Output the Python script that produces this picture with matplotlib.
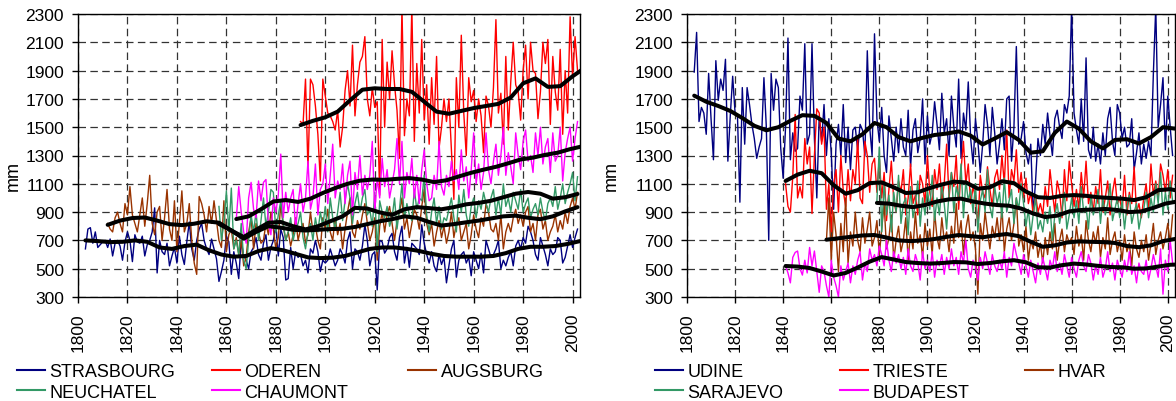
import numpy as np
import matplotlib
matplotlib.use('Agg')
import matplotlib.pyplot as plt

plt.rcParams['font.family'] = ['Liberation Sans', 'DejaVu Sans']

X_TICKS = list(range(1800, 2001, 20))
Y_TICKS = list(range(300, 2301, 200))
SMOOTH_STEP = 5

# ---------------- left panel: annual precipitation (mm) ----------------
STRASBOURG_START = 1803
STRASBOURG = [640, 780, 790, 680, 760, 650, 670,
              690, 700, 650, 710, 590, 680, 700, 660, 560, 690,
              760, 700, 550, 740, 690, 680, 730, 590, 670, 700,
              760, 930, 470, 700, 620, 600, 680, 520, 590, 650,
              540, 730, 600, 530, 690, 830, 640, 560, 700, 780,
              820, 700, 640, 600, 710, 640, 570, 410, 480, 560,
              730, 690, 460, 620, 540, 430, 700, 590, 560, 500,
              620, 650, 720, 600, 560, 680, 740, 560, 650, 700,
              810, 590, 780, 720, 420, 430, 650, 500, 620, 580,
              600, 520, 560, 470, 640, 610, 700, 620, 480, 560,
              540, 560, 640, 580, 520, 560, 640, 600, 540, 700,
              760, 500, 640, 620, 560, 660, 810, 700, 520, 600,
              620, 350, 700, 690, 610, 640, 720, 750, 620, 560,
              720, 800, 540, 650, 510, 680, 660, 640, 600, 810,
              680, 600, 540, 620, 520, 480, 600, 530, 580, 400,
              520, 640, 700, 440, 560, 600, 620, 540, 580, 450,
              620, 560, 500, 610, 470, 700, 640, 580, 600, 640,
              700, 500, 560, 520, 580, 620, 520, 660, 700, 640,
              720, 680, 800, 760, 700, 600, 560, 720, 660, 600,
              520, 640, 600, 620, 720, 700, 540, 580, 660, 740,
              650, 720, 780]
STRASBOURG_SMOOTH = [700, 695, 688, 690, 700, 690, 650, 640, 660, 670,
                     630, 600, 585, 590, 625, 645, 630, 605, 580, 575,
                     578, 590, 615, 640, 650, 650, 640, 625, 605, 590,
                     585, 585, 585, 590, 610, 640, 655, 655, 660, 675, 695]

ODEREN_START = 1890
ODEREN = [1540, 1520, 1840, 1200, 1840, 1800, 1650, 1450, 1120, 1840,
          1720, 1600, 1580, 1540, 1480, 1620, 1360, 1500, 1760, 1900,
          1650, 2080, 1580, 1800, 1960, 2000, 2140, 1700, 1580, 1780,
          1640, 1680, 1020, 2120, 1500, 1960, 1700, 2040, 1800, 1620,
          1280, 2350, 1440, 1700, 1580, 2350, 1400, 1950, 1600, 2120,
          1550, 1800, 1380, 1850, 1520, 2000, 1350, 1500, 1700, 1540,
          1700, 1340, 990, 1850, 1500, 2150, 1600, 1300, 1850, 1680,
          1760, 1540, 1700, 1580, 1320, 1720, 1650, 1500, 1780, 2260,
          1600, 1740, 1380, 2000, 1480, 1820, 2100, 1800, 1750, 1550,
          1900, 2080, 1700, 2100, 1900, 1880, 1560, 1750, 2100, 1950,
          2120, 1520, 2000, 1750, 1620, 2050, 1450, 1900, 1600, 2280,
          1850, 2140, 1900]
ODEREN_SMOOTH = [1515, 1545, 1570, 1610, 1690, 1765, 1775, 1770, 1770, 1750,
                 1680, 1610, 1595, 1615, 1635, 1650, 1665, 1710, 1810, 1845,
                 1785, 1790, 1860, 1920]

AUGSBURG_START = 1812
AUGSBURG = [820, 780, 760, 860, 900, 820, 760, 960, 880, 1080,
            880, 820, 760, 880, 1000, 800, 960, 1160, 820, 740,
            900, 940, 700, 860, 1060, 780, 700, 980, 620, 820,
            1050, 760, 820, 960, 700, 540, 460, 1010, 960, 880,
            760, 940, 820, 980, 840, 700, 650, 980, 620, 740,
            780, 640, 720, 600, 700, 520, 580, 760, 860, 640,
            820, 760, 680, 700, 820, 740, 900, 780, 640, 720,
            960, 800, 700, 760, 660, 740, 860, 700, 780, 820,
            680, 740, 900, 760, 800, 700, 640, 860, 780, 920,
            760, 700, 860, 740, 820, 640, 780, 900, 1000, 760,
            720, 840, 780, 880, 960, 820, 700, 760, 860, 560,
            800, 900, 760, 880, 940, 820, 700, 840, 900, 1000,
            780, 860, 720, 820, 920, 880, 780, 940, 1060, 820,
            740, 820, 660, 760, 840, 720, 800, 680, 760, 900,
            720, 820, 860, 700, 760, 820, 640, 740, 880, 780,
            720, 860, 800, 960, 900, 780, 760, 820, 700, 880,
            640, 760, 820, 760, 860, 920, 820, 880, 800, 900,
            940, 760, 820, 700, 880, 920, 780, 840, 700, 760,
            800, 880, 760, 840, 780, 900, 820, 940, 1000, 920, 1040]
AUGSBURG_SMOOTH = [810, 840, 858, 862, 840, 815, 808, 818, 835, 825,
                   770, 712, 760, 800, 790, 775, 770, 775, 780, 782,
                   795, 815, 835, 850, 870, 860, 830, 805, 815, 828,
                   840, 855, 870, 875, 860, 850, 870, 905, 935]

NEUCHATEL_START = 1857
NEUCHATEL = [940, 700, 820, 1050, 760, 1070, 640, 700, 600, 820,
             560, 500, 700, 880, 760, 900, 700, 840, 1000, 800,
             900, 1060, 1040, 760, 880, 980, 820, 700, 760, 860,
             700, 780, 820, 900, 720, 640, 760, 820, 700, 860,
             760, 900, 800, 940, 760, 1000, 860, 780, 900, 1040,
             840, 980, 1100, 1000, 820, 960, 1040, 900, 1000, 1060,
             880, 920, 800, 1040, 620, 980, 900, 860, 940, 800,
             860, 1000, 780, 920, 1100, 860, 960, 880, 840, 1060,
             920, 1000, 980, 1160, 880, 760, 900, 1000, 820, 940,
             780, 860, 840, 920, 1000, 860, 760, 1020, 900, 1060,
             880, 800, 940, 1000, 860, 980, 920, 1040, 960, 900,
             1000, 1060, 880, 1000, 880, 1100, 940, 1000, 900, 1040,
             980, 920, 1060, 900, 960, 1000, 860, 920, 960, 880,
             1000, 900, 840, 960, 1000, 940, 1080, 920, 1000, 1100,
             960, 1040, 1100, 1180, 980, 1150]
NEUCHATEL_SMOOTH = [816, 770, 724, 775, 825, 830, 800, 778, 800, 835,
                    870, 930, 925, 898, 880, 920, 935, 928, 920, 935,
                    955, 965, 980, 1005, 1030, 1042, 1030, 995, 1005, 1028]

CHAUMONT_START = 1864
CHAUMONT = [850, 1080, 900, 760, 680, 1000, 1110, 920, 860, 1120,
            980, 1110, 1130, 820, 740, 1000, 900, 1020, 1310, 860,
            1040, 900, 1000, 1060, 780, 960, 1100, 900, 1000, 1260,
            920, 1000, 1240, 880, 1060, 1100, 1240, 960, 1160, 1380,
            1000, 1120, 1060, 1240, 960, 1160, 1260, 880, 1180, 1060,
            1300, 1020, 1160, 1060, 1160, 1400, 900, 1140, 1000, 1280,
            1080, 1200, 1000, 1100, 1200, 1420, 1100, 1400, 1000, 1180,
            1100, 1280, 1000, 1160, 960, 1200, 1340, 1100, 980, 1000,
            1160, 1060, 1400, 1080, 1020, 1160, 1080, 1260, 1120, 1200,
            1060, 1340, 1120, 1220, 1000, 1200, 1460, 1100, 1240, 1060,
            1180, 1460, 1200, 1100, 1260, 1380, 1160, 1300, 1500, 1160,
            1320, 1220, 1100, 1460, 1300, 1200, 1400, 1480, 1260, 1300,
            1180, 1460, 1300, 1500, 1240, 1360, 1420, 1180, 1460, 1260,
            1300, 1500, 1120, 1320, 1420, 1500, 1260, 1420, 1540]
CHAUMONT_SMOOTH = [851, 870, 920, 975, 985, 972, 995, 1035, 1070, 1100,
                   1122, 1130, 1128, 1135, 1140, 1130, 1112, 1125, 1152, 1178,
                   1200, 1220, 1245, 1272, 1285, 1305, 1320, 1345, 1365]

# ---------------- right panel ----------------
UDINE_START = 1803
UDINE = [1890, 2170, 1540, 1640, 1600, 1450, 1880,
         1560, 1270, 1970, 1690, 1840, 1760, 1980, 1260, 1580, 1860,
         1600, 1580, 970, 1780, 1380, 1780, 1660, 1520, 1420, 1280,
         1360, 1420, 1850, 1500, 700, 1880, 1620, 1840, 1780, 1350,
         1140, 1500, 2130, 1270, 1460, 1330, 1350, 1720, 1620, 2090,
         1380, 1450, 2090, 1420, 1000, 1580, 1400, 1660, 1300, 1560,
         1320, 920, 1380, 1520, 1300, 1660, 1250, 1500, 1200, 1480,
         1500, 1340, 1520, 1480, 1300, 2040, 1500, 1300, 2160, 1560,
         1400, 1640, 1300, 1180, 1580, 1420, 1260, 1500, 1320, 1560,
         1360, 1300, 1620, 1220, 1480, 1560, 1320, 1420, 1700, 1240,
         1580, 1380, 1460, 1680, 1520, 1340, 1740, 1460, 1560, 1300,
         1720, 1500, 1360, 1840, 1280, 1600, 1480, 1820, 1420, 1240,
         1560, 1400, 1180, 1380, 1660, 1520, 1300, 1640, 1460, 1240,
         1380, 1560, 1340, 1700, 1720, 1260, 1500, 2070, 1380, 1420,
         1540, 1320, 1240, 1380, 880, 1120, 1420, 1300, 1520, 1380,
         1600, 1440, 1300, 1560, 1620, 1500, 1420, 1660, 1600, 1720,
         2350, 1600, 1480, 1380, 1700, 1400, 1990, 1340, 1280, 1500,
         1260, 1380, 1240, 1460, 1300, 1560, 1640, 1400, 1300, 1660,
         1600, 1420, 1500, 1360, 1380, 1560, 1200, 1320, 1460, 1240,
         1380, 1280, 1400, 1300, 1880, 2350, 1500, 1660, 1850, 1340,
         1720, 1500, 1300]
UDINE_SMOOTH = [1723, 1680, 1650, 1615, 1565, 1510, 1478, 1500, 1545, 1585,
                1580, 1530, 1420, 1400, 1450, 1530, 1500, 1430, 1400, 1425,
                1445, 1455, 1470, 1440, 1378, 1420, 1465, 1410, 1320, 1330,
                1460, 1540, 1490, 1400, 1350, 1410, 1415, 1385, 1430, 1500, 1490]

TRIESTE_START = 1841
TRIESTE = [1100, 940, 900, 1150, 1590, 1000, 1080, 1000, 1420,
           1240, 1360, 890, 1300, 1630, 1600, 1380, 1500, 920, 1100,
           760, 1100, 1200, 900, 1300, 1050, 940, 1200, 980, 1200,
           1100, 1420, 1000, 960, 1400, 1300, 1040, 1240, 1280, 1040,
           1280, 1000, 1180, 840, 1060, 1260, 980, 900, 1120, 1040,
           1200, 880, 1000, 1240, 960, 1020, 880, 1160, 1100, 960,
           1300, 1040, 940, 1200, 1060, 1240, 980, 1100, 1380, 1000,
           1180, 1080, 1300, 920, 1200, 1400, 1100, 1240, 960, 1080,
           1000, 800, 1160, 1040, 1000, 1220, 1060, 940, 1140, 1200,
           1060, 1300, 1100, 1480, 1000, 1200, 1120, 1340, 1040, 1180,
           1000, 1140, 960, 1040, 880, 1020, 900, 960, 880, 1080,
           940, 1200, 1040, 900, 1120, 1040, 860, 1200, 980, 1260,
           1100, 940, 1060, 920, 1180, 1000, 1260, 960, 1040, 900,
           1080, 960, 1200, 900, 1000, 1120, 880, 1040, 1140, 960,
           1000, 900, 1160, 880, 1040, 960, 1220, 900, 960, 860,
           1000, 1100, 900, 1240, 1020, 1120, 1000, 1240, 1160, 1040,
           1200, 1000, 1160]
TRIESTE_SMOOTH = [1120, 1165, 1192, 1175, 1090, 1030, 1055, 1105, 1110, 1075,
                  1035, 1040, 1070, 1095, 1115, 1110, 1065, 1075, 1118, 1105,
                  1045, 1005, 1000, 1015, 1020, 1015, 1005, 1000, 995, 985,
                  1005, 1055, 1062, 1045]

HVAR_START = 1858
HVAR = [700, 1000,
        560, 900, 740, 480, 820, 620, 1000, 540, 760, 660,
        900, 700, 620, 860, 680, 780, 900, 660, 720, 840,
        600, 780, 960, 640, 720, 880, 560, 700, 800, 620,
        700, 860, 560, 760, 640, 900, 680, 740, 580, 820,
        660, 780, 600, 900, 720, 640, 860, 700, 760, 620,
        800, 680, 960, 720, 840, 600, 780, 880, 700, 760,
        640, 320, 820, 700, 900, 760, 640, 800, 720, 860,
        700, 940, 620, 780, 860, 700, 820, 1000, 660, 740,
        620, 800, 560, 700, 640, 760, 580, 680, 540, 720,
        600, 760, 640, 820, 560, 700, 780, 620, 740, 680,
        720, 600, 800, 660, 740, 560, 840, 700, 620, 760,
        680, 800, 580, 720, 640, 860, 600, 700, 760, 620,
        700, 560, 740, 620, 680, 520, 760, 640, 580, 700,
        620, 740, 560, 680, 820, 600, 700, 760, 640, 720,
        820, 680, 880]
HVAR_SMOOTH = [705, 715, 725, 735, 738, 720, 700, 695, 700, 710,
               725, 738, 730, 722, 735, 745, 730, 690, 655, 665,
               685, 693, 690, 688, 682, 660, 652, 665, 695, 710]

SARAJEVO_START = 1879
SARAJEVO = [980, 1360, 760,
            1100, 880, 1020, 760, 1040, 900, 1160, 820,
            960, 1000, 740, 1080, 860, 960, 1120, 800, 1000, 880,
            1060, 920, 1160, 840, 1000, 880, 1100, 960, 780, 1040,
            1180, 900, 1080, 1000, 1240, 860, 1120, 980, 1060, 900,
            1100, 760, 980, 1060, 900, 1200, 940, 860, 1080, 960,
            1040, 860, 1140, 900, 980, 1060, 820, 1000, 920, 1100,
            960, 800, 920, 740, 880, 1000, 780, 840, 760, 900,
            820, 940, 700, 880, 960, 820, 920, 1040, 780, 880,
            1000, 860, 980, 820, 1080, 900, 940, 780, 1020, 880,
            940, 1060, 820, 1000, 880, 960, 1100, 840, 920, 1000,
            860, 980, 780, 940, 1020, 820, 900, 960, 780, 880,
            920, 1040, 860, 1000, 900, 1100, 960, 1180, 880, 1040,
            920, 1120, 980]
SARAJEVO_SMOOTH = [965, 960, 945, 935, 950, 975, 990, 995, 975, 960,
                   950, 945, 925, 890, 865, 875, 905, 915, 918, 922,
                   915, 900, 905, 930, 960, 975]

BUDAPEST_START = 1841
BUDAPEST = [520, 470, 400, 580, 615, 625, 500, 455, 560,
            470, 650, 520, 625, 480, 333, 520, 480, 380, 300,
            560, 440, 380, 300, 520, 420, 480, 540, 400, 520,
            460, 560, 620, 420, 540, 480, 640, 560, 600, 520,
            660, 600, 520, 700, 560, 480, 620, 540, 600, 500,
            580, 460, 640, 520, 480, 600, 540, 420, 620, 500,
            560, 480, 620, 440, 560, 520, 600, 460, 580, 500,
            640, 520, 580, 460, 620, 540, 700, 500, 440, 560,
            520, 420, 580, 500, 620, 540, 460, 600, 520, 480,
            560, 500, 620, 440, 580, 520, 680, 600, 540, 460,
            600, 520, 440, 560, 480, 400, 540, 460, 580, 500,
            420, 560, 500, 620, 480, 540, 460, 600, 520, 440,
            580, 500, 440, 560, 620, 520, 480, 600, 540, 420,
            520, 460, 580, 440, 500, 620, 480, 540, 420, 560,
            500, 440, 560, 480, 620, 460, 520, 400, 540, 480,
            460, 560, 420, 500, 600, 520, 440, 640, 320, 560,
            480, 700, 540]
BUDAPEST_SMOOTH = [519, 515, 505, 480, 452, 470, 508, 550, 582, 565,
                   547, 540, 536, 540, 547, 545, 533, 540, 552, 560,
                   545, 510, 508, 525, 536, 530, 520, 512, 510, 500,
                   502, 515, 528, 530]

LEFT_NAMES = ['STRASBOURG', 'ODEREN', 'AUGSBURG', 'NEUCHATEL', 'CHAUMONT']
RIGHT_NAMES = ['UDINE', 'TRIESTE', 'HVAR', 'SARAJEVO', 'BUDAPEST']
COLORS = ['#000080', '#FF0000', '#993300', '#339966', '#FF00FF']

LEFT = [(STRASBOURG_START, STRASBOURG, STRASBOURG_SMOOTH),
        (ODEREN_START, ODEREN, ODEREN_SMOOTH),
        (AUGSBURG_START, AUGSBURG, AUGSBURG_SMOOTH),
        (NEUCHATEL_START, NEUCHATEL, NEUCHATEL_SMOOTH),
        (CHAUMONT_START, CHAUMONT, CHAUMONT_SMOOTH)]
RIGHT = [(UDINE_START, UDINE, UDINE_SMOOTH),
         (TRIESTE_START, TRIESTE, TRIESTE_SMOOTH),
         (HVAR_START, HVAR, HVAR_SMOOTH),
         (SARAJEVO_START, SARAJEVO, SARAJEVO_SMOOTH),
         (BUDAPEST_START, BUDAPEST, BUDAPEST_SMOOTH)]

W, H = 1176, 402
fig = plt.figure(figsize=(W / 100, H / 100), dpi=100)

def px(x0, y0, w, h):
    return [x0 / W, 1 - (y0 + h) / H, w / W, h / H]

TICK_FS = 12.5
LEG_FS = 13

def draw_panel(ax, series, names, ylabel_x, legend_xs):
    handles = []
    for (start, vals, smooth), name, col in zip(series, names, COLORS):
        yrs = start + np.arange(len(vals))
        h, = ax.plot(yrs, vals, color=col, lw=1.0, label=name, zorder=2)
        handles.append(h)
    for (start, vals, smooth) in series:
        syrs = start + SMOOTH_STEP * np.arange(len(smooth))
        ax.plot(syrs, smooth, color='black', lw=2.9, zorder=3,
                solid_capstyle='round', solid_joinstyle='round')
    ax.set_xlim(1800, 2003)
    ax.set_ylim(300, 2300)
    ax.set_xticks(X_TICKS)
    ax.set_yticks(Y_TICKS)
    ax.set_xticklabels([str(t) for t in X_TICKS], rotation=90, fontsize=TICK_FS)
    ax.set_yticklabels([str(t) for t in Y_TICKS], fontsize=TICK_FS)
    ax.tick_params(axis='x', direction='out', length=4, width=1, pad=7)
    ax.tick_params(axis='y', direction='out', length=4, width=1, pad=6)
    ax.grid(True, color='#333333', lw=0.9, linestyle=(0, (6, 3.5)), zorder=1)
    ax.set_axisbelow(True)
    for s in ax.spines.values():
        s.set_color('black')
        s.set_linewidth(1.0)
    ax.set_ylabel('mm', fontsize=13)
    ax.yaxis.set_label_coords(ylabel_x, 0.431)
    # legend laid out in rows: three columns
    cols = [[0, 3], [1, 4], [2]]
    top = 1 - 364 / H
    for ci, idxs in enumerate(cols):
        leg = fig.legend([handles[i] for i in idxs], [names[i] for i in idxs],
                         loc='upper left', bbox_to_anchor=(legend_xs[ci] / W, top),
                         frameon=False, fontsize=LEG_FS, borderpad=0,
                         borderaxespad=0, handlelength=1.55, handletextpad=0.25,
                         labelspacing=0.2)
        for ln in leg.get_lines():
            ln.set_linewidth(1.5)

axL = fig.add_axes(px(78, 15, 502, 283))
draw_panel(axL, LEFT, LEFT_NAMES, -0.111, [17, 212, 408])
axR = fig.add_axes(px(687, 15, 488, 283))
draw_panel(axR, RIGHT, RIGHT_NAMES, -0.137, [655, 840, 1025])

fig.savefig('out.png', dpi=100)
